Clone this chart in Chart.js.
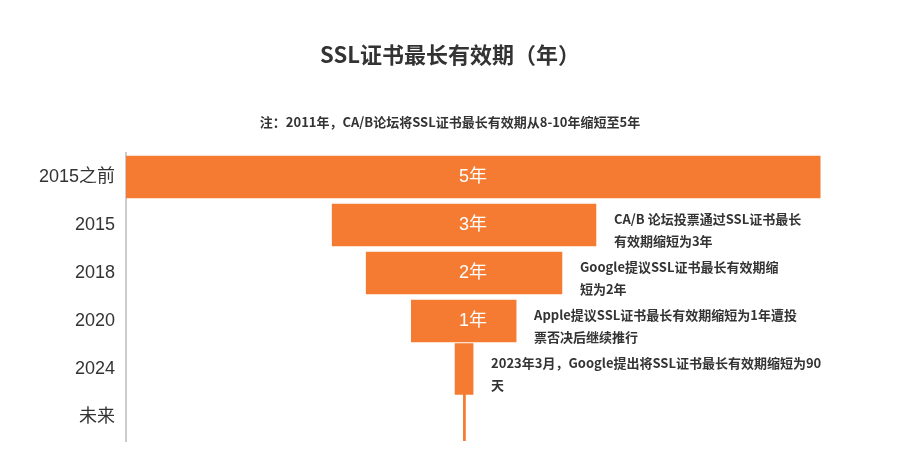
<!DOCTYPE html>
<html>
<head>
<meta charset="utf-8">
<script src="https://cdn.jsdelivr.net/npm/chart.js@4"></script>
<style>
  html, body { margin: 0; padding: 0; background: #ffffff; }
  canvas { display: block; }
</style>
</head>
<body>
<canvas id="c" width="900" height="475"></canvas>
<script>
// ---- data ----
const categories = ['2015之前', '2015', '2018', '2020', '2024', '未来'];
const barLabels  = ['5年', '3年', '2年', '1年', '', ''];
// floating bar ranges on a 0..100 funnel scale
const barStart   = [0,   29.7, 34.6, 41.1, 47.4, 48.6];
const barEnd     = [100, 67.7, 62.8, 56.2, 50.0, 48.9];
const notes = [
  [],
  ['CA/B 论坛投票通过SSL证书最长', '有效期缩短为3年'],
  ['Google提议SSL证书最长有效期缩', '短为2年'],
  ['Apple提议SSL证书最长有效期缩短为1年遭投', '票否决后继续推行'],
  ['2023年3月，Google提出将SSL证书最长有效期缩短为90', '天'],
  []
];
const titleText = 'SSL证书最长有效期（年）';
const subtitleText = '注：2011年，CA/B论坛将SSL证书最长有效期从8-10年缩短至5年';

const FONT = '"Noto Sans CJK SC", "Noto Sans", sans-serif';
const SANS = '"Liberation Sans", "Noto Sans CJK SC", sans-serif';
const ORANGE = '#F47B31';
const TEXT = '#333333';

const mainData = categories.map((c, i) => i < 4 ? [barStart[i], barEnd[i]] : null);
const tailData = categories.map((c, i) => i >= 4 ? [barStart[i], barEnd[i]] : null);

const annotate = {
  id: 'annotate',
  afterDatasetsDraw(chart) {
    const ctx = chart.ctx;
    const xs = chart.scales.x;
    const midX = xs.getPixelForValue(50);
    ctx.save();
    ctx.textBaseline = 'middle';
    categories.forEach((c, i) => {
      const meta = chart.getDatasetMeta(i < 4 ? 0 : 1);
      const el = meta.data[i];
      if (!el) return;
      const end = Math.max(el.x, el.base);
      const y = el.y;
      if (barLabels[i]) {
        ctx.fillStyle = '#ffffff';
        ctx.font = '18px ' + SANS;
        ctx.textAlign = 'center';
        ctx.fillText(barLabels[i], midX, y);
      }
      if (notes[i].length) {
        ctx.fillStyle = TEXT;
        ctx.font = 'bold 13px ' + FONT;
        ctx.textAlign = 'left';
        notes[i].forEach((line, k) => {
          ctx.fillText(line, end + 18, y - 6 + k * 22);
        });
      }
    });
    ctx.restore();
  }
};

new Chart(document.getElementById('c'), {
  type: 'bar',
  data: {
    labels: categories,
    datasets: [
      { label: '有效期', data: mainData, backgroundColor: ORANGE, barThickness: 42, grouped: false, borderWidth: 0 },
      { label: '有效期2', data: tailData, backgroundColor: ORANGE, barThickness: 51, grouped: false, borderWidth: 0 }
    ]
  },
  options: {
    indexAxis: 'y',
    responsive: false,
    animation: false,
    layout: { padding: { left: 0, right: 0, top: 0, bottom: 34 } },
    plugins: {
      legend: { display: false },
      tooltip: { enabled: false },
      title: {
        display: true, text: titleText, color: TEXT,
        font: { size: 22, weight: 'bold', family: FONT },
        padding: { top: 41, bottom: 0 }
      },
      subtitle: {
        display: true, text: subtitleText, color: TEXT,
        font: { size: 13, weight: 'bold', family: FONT },
        padding: { top: 47, bottom: 23 }
      }
    },
    scales: {
      x: { type: 'linear', min: 0, max: 111.5, display: false },
      y: {
        type: 'category',
        grid: { display: false, drawTicks: false },
        border: { display: true, color: '#cccccc', width: 2 },
        ticks: { padding: 11, color: TEXT, font: { size: 18, family: SANS } },
        afterFit(scale) { scale.width = 126; }
      }
    }
  },
  plugins: [annotate]
});
</script>
</body>
</html>
